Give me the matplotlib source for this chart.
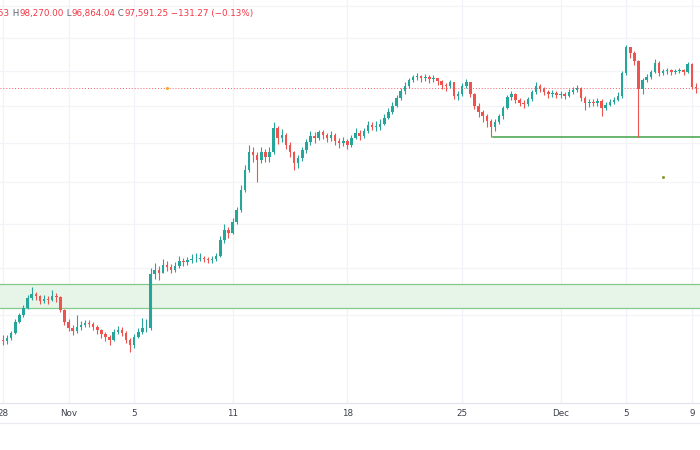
import numpy as np
import pandas as pd
import matplotlib
matplotlib.use("Agg")
import matplotlib.pyplot as plt
from matplotlib.lines import Line2D

# ---------------- data: 6-hour candles, USD thousands ----------------
start_time = "2024-10-27 18:00"
first_open = 67.0
close = [67.4, 67.3, 67.6, 68.1, 69.2, 70.0, 70.7, 71.7, 72.1, 71.9,
         71.4, 71.6, 71.5, 71.9, 71.8, 70.5, 69.2, 68.6, 68.3, 68.7,
         68.9, 69.1, 69.0, 68.7, 68.4, 68.0, 67.7, 67.4, 68.2, 68.4,
         68.1, 67.4, 66.9, 67.7, 68.2, 68.6, 68.6, 74.3, 74.7, 74.4,
         75.3, 75.1, 74.7, 75.2, 75.7, 75.6, 75.8, 75.9, 76.0, 76.1,
         75.9, 75.8, 75.9, 76.3, 78.1, 79.2, 78.9, 80.2, 81.6, 84.0,
         86.5, 88.9, 88.5, 87.8, 88.9, 88.2, 88.9, 92.0, 90.7, 91.1,
         89.8, 88.9, 87.4, 88.1, 89.1, 90.1, 90.9, 90.7, 91.5, 91.1,
         90.7, 91.1, 90.3, 90.0, 90.3, 89.8, 90.7, 91.4, 90.9, 91.6,
         92.4, 92.2, 92.2, 92.6, 93.4, 94.2, 95.1, 96.2, 97.2, 97.9,
         98.7, 99.2, 99.3, 99.0, 99.2, 98.9, 99.0, 98.6, 98.0, 97.9,
         98.4, 96.5, 96.7, 97.9, 98.4, 96.7, 95.1, 94.2, 93.6, 93.0,
         92.2, 92.9, 93.6, 94.8, 96.3, 96.7, 95.9, 95.5, 95.3, 96.0,
         97.0, 97.9, 97.5, 97.0, 96.7, 96.9, 96.6, 96.7, 96.5, 97.0,
         97.3, 97.6, 96.2, 95.4, 95.6, 95.4, 95.8, 94.8, 95.2, 95.6,
         95.9, 96.5, 99.7, 103.6, 102.8, 101.5, 97.4, 98.7, 99.2, 99.9,
         101.3, 99.7, 100.0, 100.2, 99.9, 100.0, 100.2, 99.9, 101.1, 97.72252,
         97.59125]
high = [67.6, 67.9, 67.9, 68.3, 69.5, 70.2, 71.0, 72.0, 72.9, 72.4,
        72.0, 72.0, 71.9, 72.6, 72.2, 71.9, 70.6, 69.6, 68.9, 70.0,
        69.3, 69.4, 69.4, 69.2, 68.9, 68.5, 68.2, 67.9, 68.5, 68.8,
        68.7, 68.3, 67.6, 68.0, 68.6, 69.7, 69.5, 75.0, 75.5, 75.2,
        75.9, 75.7, 75.4, 75.6, 76.3, 76.1, 76.2, 76.5, 76.6, 76.6,
        76.3, 76.2, 76.3, 76.6, 78.6, 80.0, 79.6, 80.6, 82.0, 84.6,
        87.2, 89.8, 89.5, 88.9, 89.5, 89.3, 89.5, 92.8, 92.3, 91.9,
        91.4, 90.2, 89.0, 88.5, 89.5, 90.6, 91.6, 91.5, 91.8, 91.7,
        91.4, 91.6, 91.3, 90.7, 90.8, 90.6, 91.1, 92.0, 91.7, 92.0,
        93.0, 92.8, 93.0, 93.2, 93.9, 94.7, 95.6, 96.6, 97.6, 98.4,
        99.0, 99.5, 99.7, 99.5, 99.6, 99.4, 99.4, 99.1, 98.8, 98.3,
        98.7, 98.5, 97.2, 98.3, 98.9, 98.5, 96.9, 95.4, 94.5, 93.9,
        93.3, 93.3, 94.0, 95.1, 96.6, 97.2, 96.9, 96.2, 95.9, 96.3,
        97.3, 98.4, 98.2, 97.7, 97.3, 97.3, 97.1, 97.2, 97.0, 97.4,
        97.7, 98.0, 97.7, 96.4, 96.0, 96.0, 96.2, 96.0, 95.6, 96.0,
        96.3, 97.0, 100.0, 104.0, 103.6, 103.0, 101.7, 99.0, 99.6, 100.2,
        101.9, 101.5, 100.3, 100.5, 100.3, 100.4, 100.5, 100.4, 101.4, 101.3,
        98.27]
low = [66.9, 66.9, 67.0, 67.4, 68.0, 69.1, 69.8, 70.6, 71.5, 71.5,
       71.1, 71.2, 71.1, 71.4, 71.3, 70.3, 68.9, 68.3, 67.9, 68.1,
       68.4, 68.7, 68.7, 68.4, 68.0, 67.6, 67.3, 66.9, 67.3, 68.0,
       67.8, 67.1, 66.3, 66.7, 67.6, 68.0, 68.2, 68.4, 73.8, 73.6,
       74.4, 74.6, 74.4, 74.5, 75.0, 75.2, 75.3, 75.5, 75.6, 75.7,
       75.6, 75.5, 75.5, 75.7, 76.2, 77.8, 78.3, 78.8, 80.0, 81.4,
       83.8, 86.3, 87.6, 85.0, 87.4, 87.5, 87.6, 88.6, 89.9, 90.2,
       89.2, 88.2, 86.5, 86.8, 87.7, 88.7, 89.8, 90.0, 90.4, 90.6,
       90.2, 90.3, 89.8, 89.4, 89.6, 89.3, 89.5, 90.5, 90.4, 90.7,
       91.4, 91.7, 91.6, 91.8, 92.4, 93.2, 94.0, 94.9, 95.9, 96.8,
       97.6, 98.4, 98.7, 98.5, 98.6, 98.3, 98.4, 98.0, 97.4, 97.2,
       97.6, 96.0, 95.9, 96.5, 97.6, 96.3, 94.6, 93.5, 92.8, 92.2,
       90.8, 91.6, 92.6, 93.3, 94.6, 95.9, 95.5, 95.0, 94.8, 95.0,
       95.8, 96.8, 97.0, 96.6, 96.2, 96.3, 96.1, 96.2, 96.0, 96.3,
       96.8, 97.0, 95.8, 94.5, 94.9, 95.0, 95.1, 93.6, 94.5, 95.0,
       95.3, 95.7, 96.2, 99.4, 102.0, 101.0, 90.8, 96.8, 98.4, 98.9,
       99.7, 99.3, 99.4, 99.6, 99.5, 99.6, 99.7, 99.5, 99.7, 97.4,
       96.86404]

tick_dates = ["2024-10-28", "2024-11-01", "2024-11-05", "2024-11-11", "2024-11-18",
              "2024-11-25", "2024-12-01", "2024-12-05", "2024-12-09"]
tick_labels = ["28", "Nov", "5", "11", "18", "25", "Dec", "5", "9"]

zone_low, zone_high = 70.7, 73.2          # shaded demand zone
support_level = 90.8                      # Nov 26 low line
marker_x_dates = ["2024-11-07 00:00", "2024-12-07 06:00"]
marker_prices = [97.59, 85.6]
marker_colors = ["#f5a623", "#8a9a3a"]

header_parts = [("O97,722.53", "#f23645"), (" H", "#5d606b"), ("98,270.00", "#f23645"),
                (" L", "#5d606b"), ("96,864.04", "#f23645"), (" C", "#5d606b"),
                ("97,591.25", "#f23645"), (" \u2212131.27 (\u22120.13%)", "#f23645")]

# ---------------- derived ----------------
n = len(close)
opens = [first_open] + close[:-1]
hi = [max(h, o, c) for h, o, c in zip(high, opens, close)]
lo = [min(l, o, c) for l, o, c in zip(low, opens, close)]
t0 = pd.Timestamp(start_time)
def to_idx(d):
    return (pd.Timestamp(d) - t0) / pd.Timedelta(hours=6)

W, H = 700, 450
fig = plt.figure(figsize=(7, 4.5), dpi=100)
ax_bottom_px = 403
ax = fig.add_axes([0, 1 - ax_bottom_px / H, 1, ax_bottom_px / H])
ax.set_yscale("log")
ax.set_ylim(61.49, 111.03)
ax.set_xlim(0.27, 171.0)
for s in ax.spines.values():
    s.set_visible(False)
ax.set_xticks([])
ax.set_yticks([])
ax.minorticks_off()
ax.yaxis.set_minor_locator(matplotlib.ticker.NullLocator())

grid_c = "#f0f3fa"
tick_x = [to_idx(d) for d in tick_dates]
for x in tick_x:
    ax.axvline(x, color=grid_c, lw=0.9, zorder=0)
for p in [70, 75, 80, 85, 90, 95, 100, 105, 110]:
    ax.axhline(p, color="#f3f4f8", lw=0.9, zorder=0)

# zone
ax.axhspan(zone_low, zone_high, color="#e6f5e8", zorder=1, lw=0)
ax.axhline(zone_low, color="#86c98d", lw=0.9, zorder=1.5)
ax.axhline(zone_high, color="#86c98d", lw=0.9, zorder=1.5)

# support line from the Nov 26 low
sup_idx = int(np.argmin(lo[100:140])) + 100
ax.plot([sup_idx + 0.4, 175], [support_level, support_level], color="#43a047", lw=1.1, zorder=2)

# current price dotted line
ax.axhline(close[-1], color="#f23645", lw=0.7, ls=(0, (1, 2)), zorder=2, alpha=0.8)

# candles
up_c, dn_c = "#26a69a", "#ef5350"
xs = np.arange(n)
cols = [up_c if c >= o else dn_c for o, c in zip(opens, close)]
ax.vlines(xs, lo, hi, colors=cols, lw=0.8, zorder=3)
bottoms = [min(o, c) for o, c in zip(opens, close)]
heights = [max(abs(c - o), 0.06) for o, c in zip(opens, close)]
ax.bar(xs, heights, bottom=bottoms, width=0.62, color=cols, lw=0, zorder=4)

# small markers
for d, p, c in zip(marker_x_dates, marker_prices, marker_colors):
    ax.plot([to_idx(d)], [p], "o", ms=2.2, color=c, mec="none", zorder=5)

# time-axis frame lines
fig.add_artist(Line2D([0, 1], [1 - 403 / H, 1 - 403 / H], color="#e0e3eb", lw=0.8))
fig.add_artist(Line2D([0, 1], [1 - 423 / H, 1 - 423 / H], color="#e9ebf0", lw=0.8))

# tick labels
for x, lab in zip(tick_x, tick_labels):
    xf = ax.transData.transform((x, 80))[0] / W
    fig.text(xf, 1 - 414 / H, lab, ha="center", va="center", fontsize=6.3,
             color="#3b3f4a", family="Liberation Sans Narrow")

# header OHLC text
fig.canvas.draw()
r = fig.canvas.get_renderer()
hx = 10.0
yh = 1 - 13.5 / H
first = True
for txt, col in header_parts:
    if first:
        t = fig.text(hx / W, yh, txt, ha="right", va="center", fontsize=6.3,
                     color=col, family="Liberation Sans Narrow")
        first = False
        continue
    t = fig.text(hx / W, yh, txt, ha="left", va="center", fontsize=6.3,
                 color=col, family="Liberation Sans Narrow")
    bb = t.get_window_extent(renderer=r)
    hx = bb.x1

fig.savefig("out.png", dpi=100)
